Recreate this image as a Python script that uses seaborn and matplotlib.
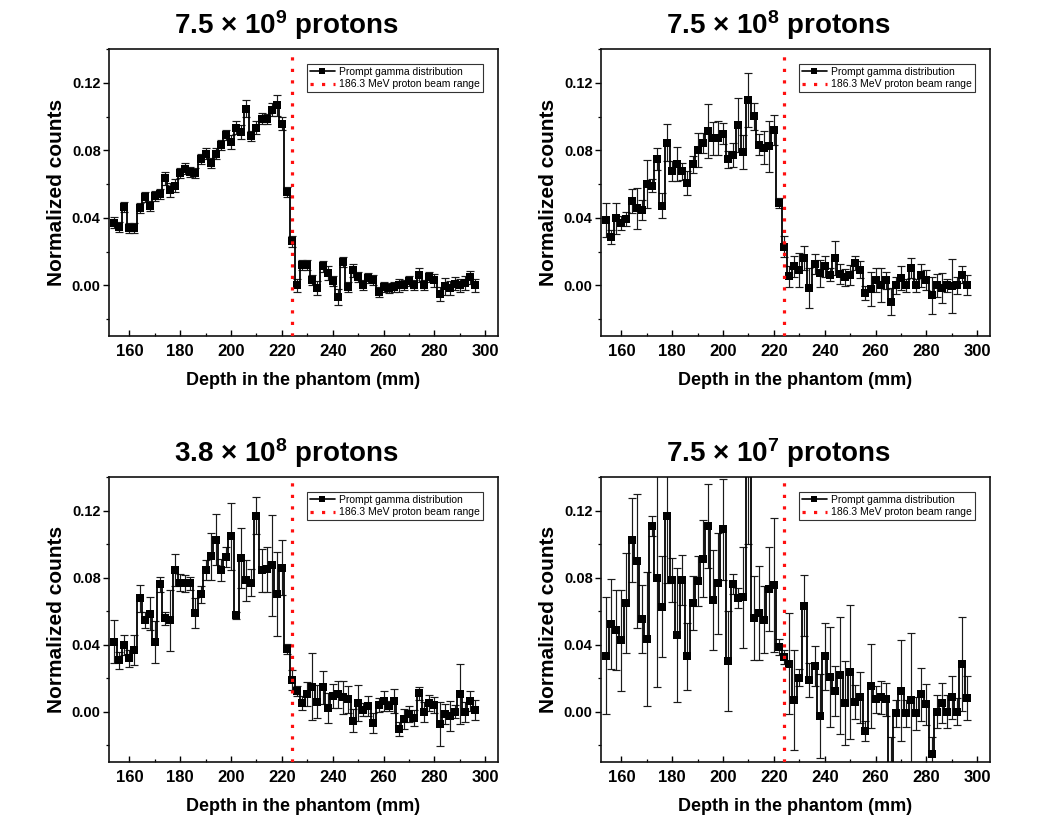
import numpy as np
import pandas as pd
import matplotlib
matplotlib.use("Agg")
import matplotlib.pyplot as plt
import seaborn as sns
from matplotlib.ticker import MultipleLocator, FormatStrFormatter
from matplotlib.lines import Line2D

# ---------------- data ----------------
depth = np.arange(154, 297, 2)  # bin centres (mm)

titles = [r"7.5 × $\mathbf{10^{9}}$ protons", r"7.5 × $\mathbf{10^{8}}$ protons",
          r"3.8 × $\mathbf{10^{8}}$ protons", r"7.5 × $\mathbf{10^{7}}$ protons"]

counts_75e9 = [0.0372, 0.0348, 0.0466, 0.0338, 0.0342, 0.0456, 0.0525, 0.0472, 0.0531, 0.0541,
               0.0633, 0.0565, 0.0590, 0.0663, 0.0692, 0.0669, 0.0663, 0.0751, 0.0781, 0.0726,
               0.0781, 0.0830, 0.0889, 0.0850, 0.0934, 0.0909, 0.1047, 0.0883, 0.0934, 0.0988,
               0.0984, 0.1041, 0.1066, 0.0958, 0.0551, 0.0260, 0.0000, 0.0122, 0.0122, 0.0030,
               -0.0016, 0.0112, 0.0073, 0.0024, -0.0069, 0.0136, -0.0010, 0.0089, 0.0049, 0.0000,
               0.0043, 0.0030, -0.0040, -0.0012, -0.0016, -0.0010, 0.0000, 0.0000, 0.0024, 0.0000,
               0.0060, 0.0000, 0.0050, 0.0030, -0.0050, -0.0006, -0.0016, 0.0010, 0.0000, 0.0014,
               0.0047, 0.0000]
err_75e9 = [0.003, 0.003, 0.003, 0.003, 0.003, 0.003, 0.003, 0.003, 0.003, 0.003,
            0.004, 0.004, 0.004, 0.003, 0.003, 0.003, 0.003, 0.003, 0.003, 0.003,
            0.003, 0.003, 0.003, 0.004, 0.004, 0.004, 0.005, 0.003, 0.004, 0.003,
            0.003, 0.004, 0.006, 0.004, 0.003, 0.003, 0.004, 0.003, 0.003, 0.003,
            0.004, 0.003, 0.004, 0.003, 0.005, 0.003, 0.003, 0.004, 0.003, 0.003,
            0.003, 0.003, 0.003, 0.003, 0.003, 0.003, 0.004, 0.003, 0.003, 0.003,
            0.004, 0.003, 0.003, 0.004, 0.004, 0.005, 0.004, 0.004, 0.004, 0.004,
            0.004, 0.004]

counts_75e8 = [0.0388, 0.0285, 0.0397, 0.0368, 0.0393, 0.0500, 0.0456, 0.0447, 0.0600, 0.0590,
               0.0746, 0.0472, 0.0846, 0.0677, 0.0718, 0.0677, 0.0608, 0.0718, 0.0801, 0.0844,
               0.0915, 0.0870, 0.0873, 0.0899, 0.0746, 0.0771, 0.0952, 0.0791, 0.1096, 0.1001,
               0.0834, 0.0816, 0.0824, 0.0919, 0.0486, 0.0230, 0.0053, 0.0112, 0.0092, 0.0161,
               -0.0016, 0.0126, 0.0073, 0.0112, 0.0063, 0.0161, 0.0067, 0.0047, 0.0063, 0.0132,
               0.0092, -0.0045, -0.0020, 0.0030, 0.0000, 0.0030, -0.0098, 0.0000, 0.0043, 0.0000,
               0.0102, 0.0000, 0.0059, 0.0030, -0.0060, 0.0000, -0.0016, 0.0000, -0.0006, 0.0000,
               0.0063, 0.0004]
err_75e8 = [0.010, 0.004, 0.009, 0.004, 0.004, 0.007, 0.012, 0.006, 0.014, 0.004,
            0.0065, 0.0075, 0.011, 0.006, 0.010, 0.005, 0.007, 0.005, 0.010, 0.006,
            0.016, 0.010, 0.010, 0.006, 0.005, 0.007, 0.016, 0.010, 0.016, 0.008,
            0.006, 0.010, 0.015, 0.009, 0.003, 0.006, 0.006, 0.006, 0.010, 0.007,
            0.012, 0.006, 0.008, 0.006, 0.004, 0.010, 0.006, 0.005, 0.006, 0.004,
            0.005, 0.004, 0.010, 0.007, 0.010, 0.005, 0.008, 0.005, 0.007, 0.004,
            0.006, 0.004, 0.007, 0.006, 0.011, 0.007, 0.009, 0.004, 0.016, 0.005,
            0.005, 0.006]

counts_38e8 = [0.0418, 0.0307, 0.0399, 0.0319, 0.0367, 0.0676, 0.0547, 0.0585, 0.0418, 0.0760,
               0.0557, 0.0545, 0.0845, 0.0770, 0.0766, 0.0766, 0.0591, 0.0700, 0.0843, 0.0928,
               0.1027, 0.0845, 0.0924, 0.1047, 0.0575, 0.0918, 0.0783, 0.0770, 0.1170, 0.0843,
               0.0849, 0.0873, 0.0700, 0.0859, 0.0373, 0.0188, 0.0125, 0.0052, 0.0105, 0.0149,
               0.0060, 0.0145, 0.0022, 0.0095, 0.0105, 0.0085, 0.0075, -0.0054, 0.0052, 0.0012,
               0.0036, -0.0067, 0.0040, 0.0065, 0.0036, 0.0065, -0.0103, -0.0044, -0.0014, -0.0038,
               0.0109, -0.0004, 0.0052, 0.0040, -0.0073, -0.0014, -0.0024, 0.0000, 0.0105, 0.0000,
               0.0065, 0.0010]
err_38e8 = [0.0127, 0.005, 0.006, 0.005, 0.009, 0.008, 0.005, 0.010, 0.0125, 0.0045,
            0.004, 0.018, 0.0093, 0.005, 0.005, 0.004, 0.009, 0.005, 0.006, 0.014,
            0.015, 0.0066, 0.006, 0.020, 0.002, 0.018, 0.012, 0.008, 0.011, 0.013,
            0.0135, 0.030, 0.025, 0.0165, 0.003, 0.006, 0.003, 0.004, 0.007, 0.020,
            0.010, 0.010, 0.009, 0.007, 0.008, 0.010, 0.008, 0.007, 0.011, 0.004,
            0.006, 0.006, 0.004, 0.006, 0.003, 0.007, 0.004, 0.006, 0.005, 0.005,
            0.004, 0.006, 0.005, 0.005, 0.013, 0.006, 0.009, 0.004, 0.018, 0.006,
            0.006, 0.006]

counts_75e7 = [0.0334, 0.0522, 0.0488, 0.0425, 0.0648, 0.1024, 0.0900, 0.0553, 0.0435, 0.1107,
               0.0795, 0.0627, 0.1170, 0.0785, 0.0460, 0.0785, 0.0332, 0.0648, 0.0780, 0.0913,
               0.1107, 0.0666, 0.0765, 0.1087, 0.0302, 0.0761, 0.0678, 0.0682, 0.1600, 0.0559,
               0.0587, 0.0550, 0.0731, 0.0757, 0.0386, 0.0326, 0.0287, 0.0069, 0.0202, 0.0633,
               0.0188, 0.0271, -0.0024, 0.0330, 0.0208, 0.0125, 0.0217, 0.0053, 0.0237, 0.0059,
               0.0085, -0.0115, 0.0152, 0.0073, 0.0085, 0.0073, -0.0350, -0.0010, 0.0125, -0.0010,
               0.0069, -0.0010, 0.0103, 0.0043, -0.0253, 0.0000, 0.0050, 0.0000, 0.0085, 0.0000,
               0.0283, 0.0083]
err_75e7 = [0.035, 0.027, 0.024, 0.030, 0.030, 0.025, 0.040, 0.020, 0.040, 0.006,
            0.065, 0.030, 0.040, 0.013, 0.040, 0.015, 0.020, 0.016, 0.015, 0.023,
            0.025, 0.030, 0.030, 0.030, 0.030, 0.006, 0.006, 0.030, 0.060, 0.025,
            0.028, 0.020, 0.025, 0.040, 0.005, 0.004, 0.030, 0.030, 0.005, 0.018,
            0.010, 0.012, 0.025, 0.020, 0.030, 0.015, 0.035, 0.025, 0.040, 0.010,
            0.015, 0.006, 0.025, 0.008, 0.010, 0.010, 0.020, 0.008, 0.030, 0.008,
            0.040, 0.010, 0.016, 0.012, 0.010, 0.010, 0.012, 0.010, 0.013, 0.008,
            0.028, 0.013]

all_counts = [counts_75e9, counts_75e8, counts_38e8, counts_75e7]
all_errs = [err_75e9, err_75e8, err_38e8, err_75e7]

beam_range = 223.8
legend_labels = ["Prompt gamma distribution", "186.3 MeV proton beam range"]
x_label = "Depth in the phantom (mm)"
y_label = "Normalized counts"

# ---------------- style ----------------
sns.set_theme(style="white")
plt.rcParams["font.family"] = ["Liberation Sans", "DejaVu Sans"]
plt.rcParams["text.color"] = "black"
plt.rcParams["axes.labelcolor"] = "black"
plt.rcParams["xtick.color"] = "black"
plt.rcParams["ytick.color"] = "black"
plt.rcParams["mathtext.fontset"] = "custom"
plt.rcParams["mathtext.rm"] = "Liberation Sans:bold"
plt.rcParams["mathtext.bf"] = "Liberation Sans:bold"
plt.rcParams["mathtext.it"] = "Liberation Sans:bold"

W, H = 1057, 827
fig = plt.figure(figsize=(W / 100, H / 100), dpi=100)
fig.patch.set_facecolor("white")

# axes boxes in pixels: (left, top, right, bottom)
boxes = [(109, 49, 498, 336), (601, 49, 990, 336),
         (109, 477, 498, 762), (601, 477, 990, 762)]

for k, (l, t, r, b) in enumerate(boxes):
    ax = fig.add_axes([l / W, 1 - b / H, (r - l) / W, (b - t) / H])
    ax.set_facecolor("white")
    df = pd.DataFrame({"depth": depth, "counts": all_counts[k], "err": all_errs[k]})

    ax.errorbar(df["depth"], df["counts"], yerr=df["err"], fmt="none",
                ecolor="#1a1a1a", elinewidth=0.85, capsize=2.7, capthick=0.85, zorder=2)
    sns.lineplot(data=df, x="depth", y="counts", ax=ax, color="black", linewidth=1.3,
                 drawstyle="steps-mid", marker="s", markersize=5.4, markeredgewidth=0,
                 errorbar=None, legend=False, zorder=3)
    ax.axvline(beam_range, color="#ff1010", linewidth=2.3, linestyle=(0, (1, 2.6)), zorder=4)

    ax.set_xlim(152, 305)
    ax.set_ylim(-0.03, 0.14)
    ax.xaxis.set_major_locator(MultipleLocator(20))
    ax.xaxis.set_minor_locator(MultipleLocator(10))
    ax.yaxis.set_major_locator(MultipleLocator(0.04))
    ax.yaxis.set_minor_locator(MultipleLocator(0.02))
    ax.yaxis.set_major_formatter(FormatStrFormatter("%.2f"))

    ax.tick_params(axis="x", which="major", direction="in", length=4, width=1,
                   labelsize=12, pad=6, bottom=True, top=False, colors="black")
    ax.tick_params(axis="x", which="minor", direction="in", length=2.5, width=0.9,
                   bottom=True, top=False)
    ax.tick_params(axis="y", which="major", direction="out", length=4, width=1,
                   labelsize=10.5, pad=2, left=True, right=False, colors="black")
    ax.tick_params(axis="y", which="minor", direction="out", length=2.5, width=0.9,
                   left=True, right=False)
    for lab in ax.get_xticklabels() + ax.get_yticklabels():
        lab.set_fontweight("bold")

    for sp in ax.spines.values():
        sp.set_color("#111111")
        sp.set_linewidth(1.2)

    ax.set_xlabel(x_label, fontsize=13, fontweight="bold", color="black")
    ax.set_ylabel(y_label, fontsize=15, fontweight="bold", color="black")
    ax.xaxis.set_label_coords(0.5, -0.125)
    ax.yaxis.set_label_coords(-0.11, 0.5)

    ax.text(0.457, 1 + 24 / (b - t), titles[k], transform=ax.transAxes,
            ha="center", va="center", fontsize=20, fontweight="bold", color="black")

    handles = [Line2D([], [], color="black", linewidth=1.2, marker="s", markersize=4.8,
                      markeredgewidth=0),
               Line2D([], [], color="#ff1010", linewidth=2.3, linestyle=(0, (1, 2.6)))]
    leg = ax.legend(handles, legend_labels, loc="upper right",
                    bbox_to_anchor=(0.961, 0.948), fontsize=7.5, frameon=True,
                    fancybox=False, edgecolor="#333333", framealpha=1,
                    borderpad=0.3, labelspacing=0.22, handlelength=2.4,
                    handletextpad=0.4, borderaxespad=0)
    leg.get_frame().set_linewidth(0.8)
    for txt in leg.get_texts():
        txt.set_color("black")

fig.savefig("out.png", dpi=100, facecolor="white")
